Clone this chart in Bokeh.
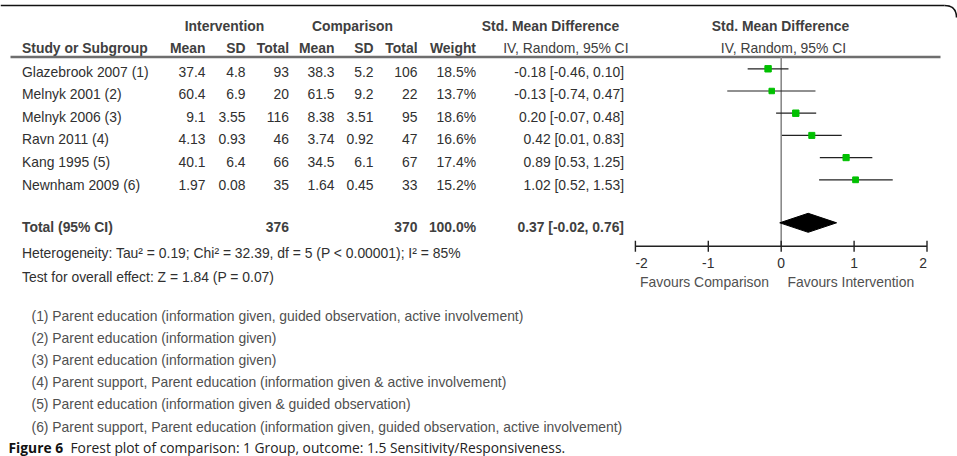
from bokeh.plotting import figure
from bokeh.models import Range1d
from bokeh.core.properties import value
from bokeh.embed import file_html
from bokeh.resources import INLINE

# ---- study data -------------------------------------------------------------
studies = ["Glazebrook 2007 (1)", "Melnyk 2001 (2)", "Melnyk 2006 (3)",
           "Ravn 2011 (4)", "Kang 1995 (5)", "Newnham 2009 (6)"]
int_mean = [37.4, 60.4, 9.1, 4.13, 40.1, 1.97]
int_sd = [4.8, 6.9, 3.55, 0.93, 6.4, 0.08]
int_n = [93, 20, 116, 46, 66, 35]
cmp_mean = [38.3, 61.5, 8.38, 3.74, 34.5, 1.64]
cmp_sd = [5.2, 9.2, 3.51, 0.92, 6.1, 0.45]
cmp_n = [106, 22, 95, 47, 67, 33]
weight = [18.5, 13.7, 18.6, 16.6, 17.4, 15.2]
smd = [-0.18, -0.13, 0.20, 0.42, 0.89, 1.02]
ci_low = [-0.46, -0.74, -0.07, 0.01, 0.53, 0.52]
ci_high = [0.10, 0.47, 0.48, 0.83, 1.25, 1.53]

total_label = "Total (95% CI)"
total_int_n = 376
total_cmp_n = 370
total_weight = 100.0
total_smd = 0.37
total_low = -0.02
total_high = 0.76

heterogeneity = "Heterogeneity: Tau\u00b2 = 0.19; Chi\u00b2 = 32.39, df = 5 (P < 0.00001); I\u00b2 = 85%"
overall_effect = "Test for overall effect: Z = 1.84 (P = 0.07)"

axis_ticks = [-2, -1, 0, 1, 2]
favours = ["Favours Comparison", "Favours Intervention"]

footnotes = [
    "(1) Parent education (information given, guided observation, active involvement)",
    "(2) Parent education (information given)",
    "(3) Parent education (information given)",
    "(4) Parent support, Parent education (information given & active involvement)",
    "(5) Parent education (information given & guided observation)",
    "(6) Parent support, Parent education (information given, guided observation, active involvement)",
]
caption_bold = "Figure 6"
caption_rest = "Forest plot of comparison: 1 Group, outcome: 1.5 Sensitivity/Responsiveness."

# ---- layout -----------------------------------------------------------------
W, H = 957, 456
ZERO_PX, UNIT_PX = 780.7, 72.9          # where SMD = 0 sits and pixels per unit
FONT = "Liberation Sans"
FS = "13.9px"
TXT = "#303030"
HEAD = "#404040"
GREY = "#505050"

p = figure(width=W, height=H,
           x_range=Range1d(-ZERO_PX / UNIT_PX, (W - ZERO_PX) / UNIT_PX),
           y_range=Range1d(H, 0),
           output_backend="svg", toolbar_location=None,
           x_axis_location=None, y_axis_location=None,
           min_border=0, outline_line_color=None)
p.grid.visible = False
p.extra_x_ranges = {"px": Range1d(0, W)}


def put(xs, ys, texts, align="left", bold=False, color=TXT, size=FS,
        font=FONT, baseline="middle", rng="px"):
    kw = dict(x_range_name=rng) if rng else {}
    p.text(x=xs, y=ys, text=texts, text_align=align, text_baseline=baseline,
           text_font=value(font), text_font_size=value(size),
           text_font_style="bold" if bold else "normal", text_color=color, **kw)


n = len(studies)
row_y = [71.0 + 22.64 * i for i in range(n)]
mark_y = [68.3 + 22.2 * i for i in range(n)]
total_y, diamond_y = 226.5, 222.3
axis_y = 245.7

# frame border with rounded top-right corner
p.line(x=[0, 944], y=[5, 5], x_range_name="px", line_color="#111111", line_width=1.6)
p.quadratic(x0=[944], y0=[5], x1=[956], y1=[17], cx=[956], cy=[5],
            x_range_name="px", line_color="#111111", line_width=1.6)

# header
put([224, 352], [25, 25], ["Intervention", "Comparison"], align="center", bold=True, color=HEAD)
put([550, 780], [25, 25], ["Std. Mean Difference"] * 2, align="center", bold=True, color=HEAD)
put([21.5], [47.7], ["Study or Subgroup"], bold=True, color=HEAD)
put([205, 245, 288.5, 334, 373, 417, 475.5], [47.7] * 7,
    ["Mean", "SD", "Total", "Mean", "SD", "Total", "Weight"],
    align="right", bold=True, color=HEAD)
put([628], [47.7], ["IV, Random, 95% CI"], align="right", color=HEAD)
put([783], [47.7], ["IV, Random, 95% CI"], align="center", color=HEAD)
p.segment(x0=[10], y0=[56.5], x1=[940], y1=[56.5], x_range_name="px",
          line_color="#6e6e6e", line_width=2.5)

# study rows
put([21.5] * n, row_y, studies)
cols = [(205, int_mean), (245, int_sd), (288.5, int_n),
        (334, cmp_mean), (373, cmp_sd), (417, cmp_n)]
for cx, vals in cols:
    put([cx] * n, row_y, [str(v) for v in vals], align="right")
put([475.5] * n, row_y, [f"{w:.1f}%" for w in weight], align="right")
put([623.5] * n, row_y,
    [f"{e:.2f} [{lo:.2f}, {hi:.2f}]" for e, lo, hi in zip(smd, ci_low, ci_high)],
    align="right")

# total row
put([21.5], [total_y], [total_label], bold=True, color=HEAD)
put([288.5, 417, 475.5], [total_y] * 3,
    [str(total_int_n), str(total_cmp_n), f"{total_weight:.1f}%"],
    align="right", bold=True, color=HEAD)
put([623.5], [total_y], [f"{total_smd:.2f} [{total_low:.2f}, {total_high:.2f}]"],
    align="right", bold=True, color=HEAD)

put([21.5, 21.5], [252.7, 276.7], [heterogeneity, overall_effect])

# forest plot: line of no effect, CIs, weighted squares, pooled diamond
p.segment(x0=[0], y0=[56.5], x1=[0], y1=[axis_y], line_color="#8a8a8a", line_width=1.6)
p.segment(x0=ci_low, y0=mark_y, x1=ci_high, y1=mark_y, line_color="#222222", line_width=1.2)
sizes = [6.4 * (w / max(weight)) ** 0.5 for w in weight]
p.scatter(x=smd, y=mark_y, marker="square", size=sizes,
          fill_color="#00c000", line_color="#00c000")
p.patch(x=[total_low, total_smd, total_high, total_smd],
        y=[diamond_y, diamond_y - 9.5, diamond_y, diamond_y + 9.5],
        fill_color="black", line_color="black")

# effect axis
p.segment(x0=[axis_ticks[0]], y0=[axis_y], x1=[axis_ticks[-1]], y1=[axis_y],
          line_color="#222222", line_width=1.4)
p.segment(x0=axis_ticks, y0=[axis_y - 5.5] * len(axis_ticks),
          x1=axis_ticks, y1=[axis_y + 5.5] * len(axis_ticks),
          line_color="#222222", line_width=1.4)
lab_y = 262.5
put([axis_ticks[0]], [lab_y], [str(axis_ticks[0])], align="left", rng=None)
put(axis_ticks[1:-1], [lab_y] * (len(axis_ticks) - 2),
    [str(t) for t in axis_ticks[1:-1]], align="center", rng=None)
put([axis_ticks[-1]], [lab_y], [str(axis_ticks[-1])], align="right", rng=None)
put([768.5], [281], [favours[0]], align="right", color=GREY)
put([787], [281], [favours[1]], align="left", color=GREY)

# footnotes
put([31] * len(footnotes), [315 + 22.2 * i for i in range(len(footnotes))],
    footnotes, color=GREY)

# figure caption
put([8], [447], [caption_bold], bold=True, color="#111111", size="13.8px",
    font="Open Sans", baseline="alphabetic")
put([70], [447], [caption_rest], color="#222222", size="13.8px",
    font="Open Sans", baseline="alphabetic")

open("out.html", "w").write(file_html(p, INLINE))
